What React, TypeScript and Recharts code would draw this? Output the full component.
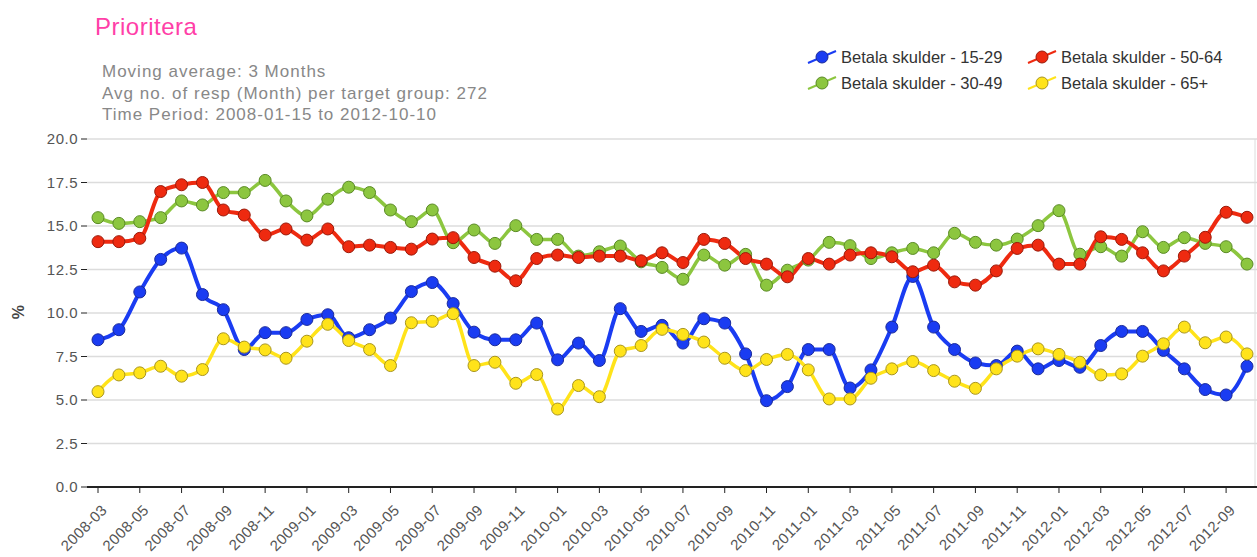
import { LineChart, Line, XAxis, YAxis, CartesianGrid } from 'recharts';

const months = [
  '2008-03', '2008-04', '2008-05', '2008-06', '2008-07', '2008-08', '2008-09', '2008-10', '2008-11', '2008-12',
  '2009-01', '2009-02', '2009-03', '2009-04', '2009-05', '2009-06', '2009-07', '2009-08', '2009-09', '2009-10',
  '2009-11', '2009-12', '2010-01', '2010-02', '2010-03', '2010-04', '2010-05', '2010-06', '2010-07', '2010-08',
  '2010-09', '2010-10', '2010-11', '2010-12', '2011-01', '2011-02', '2011-03', '2011-04', '2011-05', '2011-06',
  '2011-07', '2011-08', '2011-09', '2011-10', '2011-11', '2011-12', '2012-01', '2012-02', '2012-03', '2012-04',
  '2012-05', '2012-06', '2012-07', '2012-08', '2012-09', '2012-10',
];

const age1529 = [
  8.46, 9.04, 11.21, 13.08, 13.73, 11.06, 10.19, 7.9, 8.87, 8.87, 9.63, 9.9, 8.58, 9.04,
  9.71, 11.23, 11.75, 10.54, 8.9, 8.46, 8.46, 9.42, 7.31, 8.27, 7.27, 10.25, 8.94,
  9.29, 8.27, 9.67, 9.42, 7.65, 4.96, 5.77, 7.9, 7.9, 5.69, 6.73, 9.19, 12.1, 9.19,
  7.9, 7.13, 6.98, 7.81, 6.79, 7.27, 6.88, 8.13, 8.94, 8.94, 7.85, 6.79, 5.6, 5.29, 6.94,
];

const age3049 = [
  15.48, 15.15, 15.25, 15.48, 16.44, 16.21, 16.92, 16.92, 17.62, 16.44, 15.58, 16.54, 17.23, 16.92,
  15.92, 15.25, 15.92, 14.04, 14.77, 14.0, 15.02, 14.23, 14.23, 13.27, 13.52, 13.85, 12.94,
  12.62, 11.94, 13.33, 12.75, 13.37, 11.6, 12.46, 13.04, 14.06, 13.87, 13.13, 13.46, 13.71, 13.46,
  14.58, 14.06, 13.9, 14.25, 15.02, 15.88, 13.38, 13.81, 13.27, 14.67, 13.77, 14.33, 14.0, 13.81, 12.81,
];

const age5064 = [
  14.1, 14.1, 14.29, 16.98, 17.37, 17.5, 15.92, 15.63, 14.48, 14.83, 14.19, 14.83, 13.81, 13.9,
  13.77, 13.67, 14.25, 14.33, 13.19, 12.69, 11.85, 13.13, 13.33, 13.19, 13.27, 13.27, 13.0,
  13.46, 12.9, 14.23, 14.0, 13.13, 12.81, 12.08, 13.13, 12.81, 13.33, 13.46, 13.23, 12.37, 12.75,
  11.79, 11.6, 12.42, 13.71, 13.9, 12.81, 12.81, 14.38, 14.23, 13.46, 12.42, 13.27, 14.35, 15.79, 15.5,
];

const age65 = [
  5.48, 6.44, 6.56, 6.94, 6.37, 6.75, 8.52, 8.04, 7.88, 7.4, 8.38, 9.35, 8.42, 7.9,
  6.98, 9.44, 9.52, 9.96, 6.98, 7.17, 5.96, 6.46, 4.48, 5.83, 5.19, 7.81, 8.13,
  9.06, 8.77, 8.33, 7.4, 6.69, 7.33, 7.62, 6.73, 5.06, 5.06, 6.25, 6.79, 7.21, 6.69,
  6.08, 5.67, 6.79, 7.52, 7.94, 7.62, 7.17, 6.44, 6.5, 7.52, 8.23, 9.19, 8.29, 8.62, 7.65,
];

const yTicks = [0, 2.5, 5, 7.5, 10, 12.5, 15, 17.5, 20];

const series = [
  { key: 'a', name: 'Betala skulder - 15-29', color: '#1a3cf2', edge: '#1a2a9a', width: 4 },
  { key: 'b', name: 'Betala skulder - 30-49', color: '#8cc63f', edge: '#5a8a25', width: 3.5 },
  { key: 'c', name: 'Betala skulder - 50-64', color: '#ee2a10', edge: '#9a1a0a', width: 4 },
  { key: 'd', name: 'Betala skulder - 65+', color: '#ffe31a', edge: '#a89520', width: 3.5 },
];

const data = months.map((m, i) => ({
  month: m,
  a: age1529[i],
  b: age3049[i],
  c: age5064[i],
  d: age65[i],
}));

const font = '"Liberation Sans", Arial, sans-serif';

// rotated month label, end of text sits just right of / below the tick
const MonthTick = (props: any) => {
  const { x, y, payload } = props;
  return (
    <g transform={`translate(${x + 10},${y + 16})`}>
      <text
        transform="rotate(-45)"
        textAnchor="end"
        fontSize={15}
        letterSpacing={0.4}
        fill="#555"
        fontFamily={font}
      >
        {payload.value}
      </text>
    </g>
  );
};

const LegendBox = () => (
  <div
    style={{
      position: 'absolute',
      left: 807,
      top: 44,
      display: 'grid',
      gridTemplateColumns: '220px 200px',
      fontFamily: font,
      fontSize: 16.5,
      color: '#333',
    }}
  >
    {[series[0], series[2], series[1], series[3]].map((s) => (
      <div key={s.key} style={{ display: 'flex', alignItems: 'center', height: 26 }}>
        <svg width={30} height={18} style={{ marginRight: 4 }}>
          <line x1={1} y1={15} x2={29} y2={3} stroke={s.color} strokeWidth={2} />
          <circle cx={15} cy={9} r={6} fill={s.color} stroke={s.edge} strokeWidth={1} />
        </svg>
        <span>{s.name}</span>
      </div>
    ))}
  </div>
);

const App = () => {
  return (
    <div style={{ position: 'absolute', left: 0, top: 0, width: 1257, height: 557, background: '#fff' }}>
      <div
        style={{
          position: 'absolute',
          left: 95,
          top: 15,
          fontFamily: font,
          fontSize: 24,
          lineHeight: 1,
          letterSpacing: 0.5,
          color: '#ff3fa8',
        }}
      >
        Prioritera
      </div>
      <div
        style={{
          position: 'absolute',
          left: 102,
          top: 61,
          fontFamily: font,
          fontSize: 17,
          letterSpacing: 1,
          lineHeight: '21.5px',
          color: '#888',
        }}
      >
        <div>Moving average: 3 Months</div>
        <div>Avg no. of resp (Month) per target group: 272</div>
        <div>Time Period: 2008-01-15 to 2012-10-10</div>
      </div>
      <LegendBox />
      <div
        style={{
          position: 'absolute',
          left: 11,
          top: 303,
          width: 16,
          textAlign: 'center',
          transform: 'rotate(-90deg)',
          fontFamily: font,
          fontSize: 16,
          fontWeight: 'bold',
          color: '#444',
        }}
      >
        %
      </div>
      <LineChart width={1257} height={557} data={data} margin={{ top: 139, right: 0, bottom: 8, left: 8 }}>
        <CartesianGrid vertical={false} stroke="#dcdcdc" strokeWidth={1.5} />
        <CartesianGrid horizontal={false} verticalPoints={[1255]} stroke="#dcdcdc" />
        <XAxis
          dataKey="month"
          interval={1}
          height={62}
          padding={{ left: 11, right: 10 }}
          axisLine={{ stroke: '#222', strokeWidth: 2 }}
          tickLine={{ stroke: '#222' }}
          tickSize={6}
          tick={<MonthTick />}
        />
        <YAxis
          domain={[0, 20]}
          ticks={yTicks}
          width={79}
          axisLine={false}
          tickLine={{ stroke: '#222' }}
          tickSize={6}
          tickMargin={3}
          tickFormatter={(v: number) => v.toFixed(1)}
          tick={{ fontSize: 15, fill: '#555', fontFamily: font, letterSpacing: 0.5 }}
        />
        {series.map((s) => (
          <Line
            key={s.key}
            type="monotone"
            dataKey={s.key}
            name={s.name}
            stroke={s.color}
            strokeWidth={s.width}
            dot={{ r: 6, fill: s.color, stroke: s.edge, strokeWidth: 1 }}
            activeDot={false}
            isAnimationActive={false}
          />
        ))}
      </LineChart>
    </div>
  );
};

export default App;
